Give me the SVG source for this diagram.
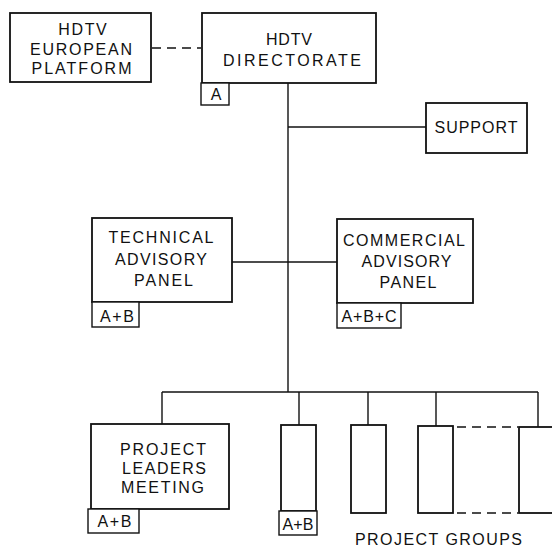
<svg xmlns="http://www.w3.org/2000/svg" width="552" height="548" viewBox="0 0 552 548">
<style>
.box{fill:#fff;stroke:#111;stroke-width:1.8}
.lab{fill:#fff;stroke:#111;stroke-width:1.4}
.ln{fill:none;stroke:#111;stroke-width:1.4}
.dash{fill:none;stroke:#111;stroke-width:1.4;stroke-dasharray:9 6}
text{font-family:"Liberation Sans",Arial,Helvetica,sans-serif;font-size:16px;fill:#111;text-anchor:middle}
</style>
<rect width="552" height="548" fill="#fff"/>
<g id="connectors">
<line class="dash" x1="152" y1="48" x2="201" y2="48"/>
<line class="ln" x1="288" y1="83" x2="288" y2="392"/>
<line class="ln" x1="288" y1="127" x2="426" y2="127"/>
<line class="ln" x1="232" y1="262" x2="337" y2="262"/>
<line class="ln" x1="162" y1="392" x2="538" y2="392"/>
<line class="ln" x1="162" y1="392" x2="162" y2="424"/>
<line class="ln" x1="299" y1="392" x2="299" y2="425"/>
<line class="ln" x1="368" y1="392" x2="368" y2="425"/>
<line class="ln" x1="436" y1="392" x2="436" y2="426"/>
<line class="ln" x1="538" y1="392" x2="538" y2="427"/>
<line class="dash" x1="457" y1="427" x2="518" y2="427"/>
<line class="dash" x1="457" y1="513" x2="518" y2="513"/>
</g>
<g id="platform">
<rect class="box" x="10" y="13" width="141" height="69"/>
<text x="82.5" y="35" textLength="48.5" lengthAdjust="spacing">HDTV</text>
<text x="81" y="54.5" textLength="102" lengthAdjust="spacing">EUROPEAN</text>
<text x="81.5" y="74" textLength="100" lengthAdjust="spacing">PLATFORM</text>
</g>
<g id="directorate">
<rect class="box" x="202" y="13" width="174" height="70"/>
<text x="289" y="45" textLength="46" lengthAdjust="spacing">HDTV</text>
<text x="292" y="66" textLength="138" lengthAdjust="spacing">DIRECTORATE</text>
<rect class="lab" x="201" y="83" width="28" height="22"/>
<text x="216" y="99.5">A</text>
</g>
<g id="support">
<rect class="box" x="426" y="103" width="101" height="50"/>
<text x="476" y="133" textLength="83" lengthAdjust="spacing">SUPPORT</text>
</g>
<g id="technical">
<rect class="box" x="92" y="218" width="140" height="84"/>
<text x="161" y="243" textLength="105" lengthAdjust="spacing">TECHNICAL</text>
<text x="161" y="265" textLength="92" lengthAdjust="spacing">ADVISORY</text>
<text x="163.5" y="286" textLength="59" lengthAdjust="spacing">PANEL</text>
<rect class="lab" x="92" y="302" width="47" height="25"/>
<text x="117" y="321.5" textLength="34" lengthAdjust="spacing">A+B</text>
</g>
<g id="commercial">
<rect class="box" x="337" y="219" width="136" height="84"/>
<text x="404" y="246" textLength="122" lengthAdjust="spacing">COMMERCIAL</text>
<text x="406.5" y="267" textLength="90" lengthAdjust="spacing">ADVISORY</text>
<text x="408" y="288" textLength="57" lengthAdjust="spacing">PANEL</text>
<rect class="lab" x="337" y="303" width="64" height="25"/>
<text x="369" y="322" textLength="55" lengthAdjust="spacing">A+B+C</text>
</g>
<g id="project-leaders">
<rect class="box" x="91" y="424" width="138" height="85"/>
<text x="163" y="455" textLength="86" lengthAdjust="spacing">PROJECT</text>
<text x="164" y="474" textLength="84" lengthAdjust="spacing">LEADERS</text>
<text x="162.5" y="493" textLength="83" lengthAdjust="spacing">MEETING</text>
<rect class="lab" x="88" y="509" width="51" height="24"/>
<text x="114.5" y="527" textLength="34" lengthAdjust="spacing">A+B</text>
</g>
<g id="group1">
<rect class="box" x="281" y="425" width="35" height="86"/>
<rect class="lab" x="279" y="511" width="38" height="24"/>
<text x="298" y="529.5" textLength="31" lengthAdjust="spacing">A+B</text>
</g>
<g id="group2">
<rect class="box" x="351" y="425" width="35" height="88"/>
</g>
<g id="group3">
<rect class="box" x="418" y="426" width="35" height="87"/>
</g>
<g id="group4">
<rect class="box" x="519" y="427" width="45" height="86"/>
</g>
<g id="label-groups">
<text x="438.5" y="545" textLength="167" lengthAdjust="spacing">PROJECT GROUPS</text>
</g>
</svg>
